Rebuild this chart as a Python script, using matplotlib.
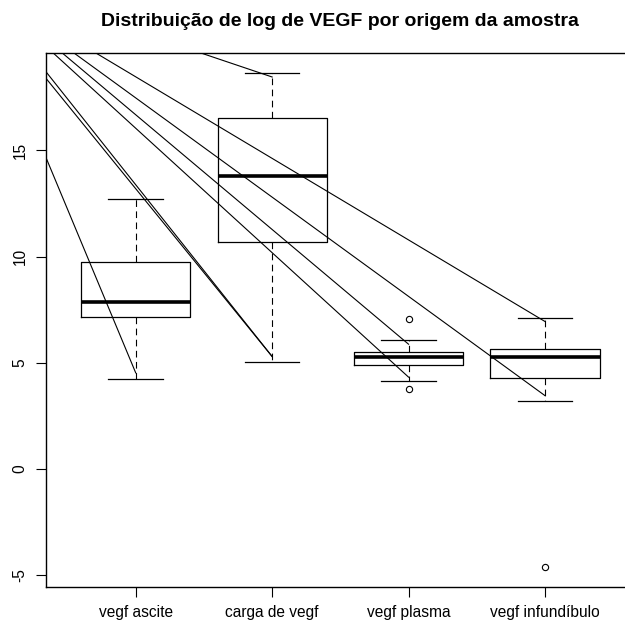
import matplotlib
matplotlib.use("Agg")
import matplotlib.pyplot as plt

plt.rcParams['font.family'] = ['Liberation Sans', 'DejaVu Sans']

groups = ["vegf ascite", "carga de vegf", "vegf plasma", "vegf infundíbulo"]
whis_lo = [4.23, 5.06, 4.15, 3.22]
q1 = [7.18, 10.69, 4.90, 4.28]
median = [7.89, 13.79, 5.30, 5.30]
q3 = [9.75, 16.53, 5.53, 5.65]
whis_hi = [12.74, 18.66, 6.08, 7.12]
fliers = [[], [], [7.08, 3.77], [-4.62]]

# stray segments drawn over the boxes (start -> end, data units)
seg_x0 = [0.338, 0.338, 0.338, 0.390, 0.456, 0.541, 0.700, 1.464]
seg_y0 = [14.73, 18.43, 18.74, 19.62, 19.62, 19.62, 19.62, 19.62]
seg_x1 = [1.0, 2.0, 2.0, 3.0, 3.0, 4.0, 4.0, 2.0]
seg_y1 = [4.53, 5.30, 5.30, 4.33, 5.88, 3.46, 6.95, 18.46]

ylim = (-5.55, 19.59)


def draw(ax):
    stats = []
    for i, name in enumerate(groups):
        stats.append({"label": name, "med": median[i], "q1": q1[i], "q3": q3[i],
                      "whislo": whis_lo[i], "whishi": whis_hi[i],
                      "fliers": fliers[i]})
    ax.bxp(stats, positions=[1, 2, 3, 4], widths=0.8, capwidths=0.4,
           boxprops=dict(color="black", linewidth=0.9),
           medianprops=dict(color="black", linewidth=2.6, solid_capstyle="butt"),
           whiskerprops=dict(color="black", linewidth=0.8,
                             linestyle=(0, (6, 4))),
           capprops=dict(color="black", linewidth=0.9),
           flierprops=dict(marker="o", markersize=4.5, markerfacecolor="none",
                           markeredgecolor="black", markeredgewidth=0.8))
    for x0, y0, x1, y1 in zip(seg_x0, seg_y0, seg_x1, seg_y1):
        ax.plot([x0, x1], [y0, y1], color="black", linewidth=0.8)


def main():
    fig = plt.figure(figsize=(6.25, 6.33), dpi=100)
    ax = fig.add_axes([45.7 / 625, 46 / 633, (635 - 45.7) / 625, (587 - 53) / 633])
    draw(ax)
    ax.set_xlim(0.34, 4.66)
    ax.set_ylim(*ylim)
    ax.set_xticks([1, 2, 3, 4])
    ax.set_xticklabels(groups, fontsize=11.2)
    ax.set_yticks([-5, 0, 5, 10, 15])
    ax.set_yticklabels(["-5", "0", "5", "10", "15"], fontsize=11.2,
                       rotation=90, va="center")
    ax.tick_params(direction="out", length=7, width=0.8, pad=6)
    for s in ax.spines.values():
        s.set_linewidth(1.0)
    fig.text(340 / 625, 1 - 22 / 633, "Distribuição de log de VEGF por origem da amostra",
             ha="center", va="center", fontsize=14, fontweight="bold")
    fig.savefig("out.png", dpi=100)


if __name__ == "__main__":
    main()
